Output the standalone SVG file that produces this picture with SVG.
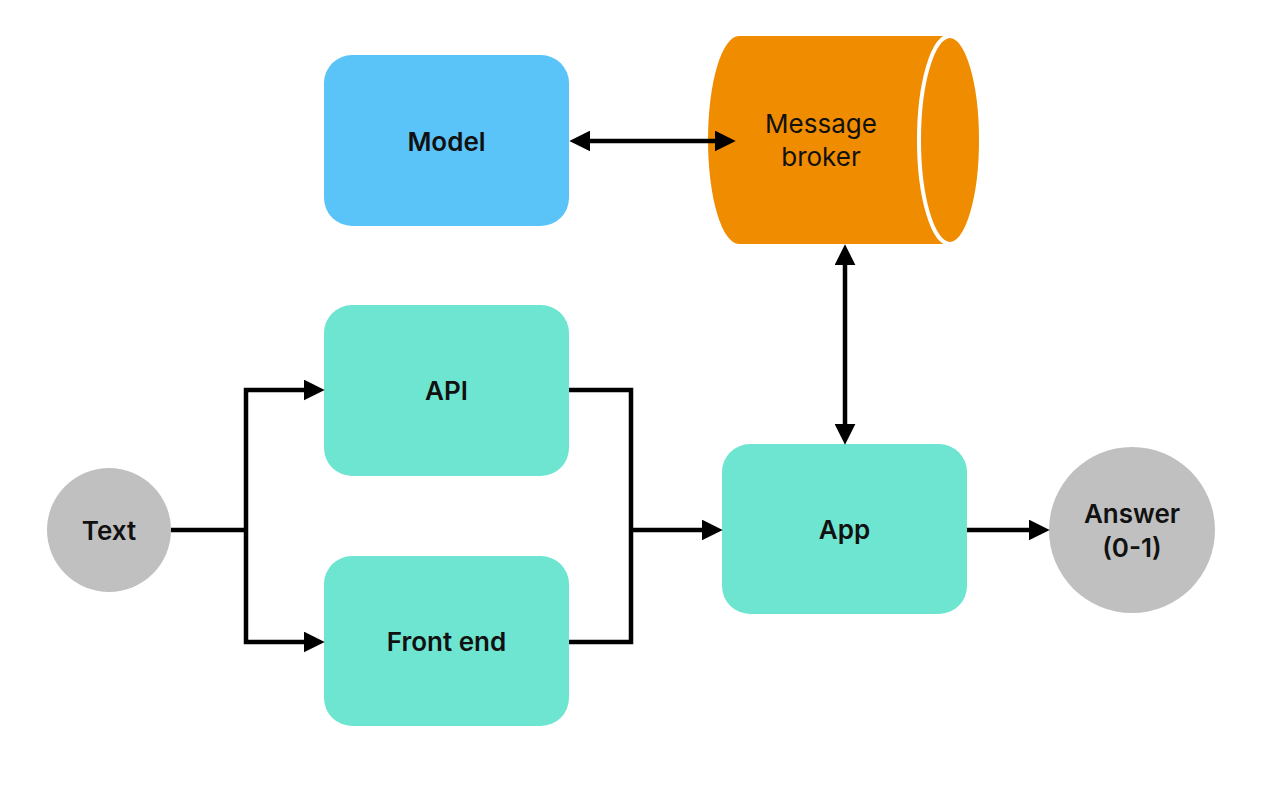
<svg xmlns="http://www.w3.org/2000/svg" width="1280" height="808" viewBox="0 0 1280 808">
<defs>
<marker id="ah" viewBox="0 0 20 20" refX="6" refY="10" markerWidth="21" markerHeight="21" markerUnits="userSpaceOnUse" orient="auto-start-reverse">
<path d="M0,0 L20,10 L0,20 Z" fill="#000"/>
</marker>
</defs>
<style>
.box{fill:#6EE5D0}
.lbl{font-family:Inter,"Liberation Sans",sans-serif;font-size:26px;font-weight:600;fill:#111;text-anchor:middle;dominant-baseline:central}
.lbln{font-family:Inter,"Liberation Sans",sans-serif;font-size:26px;font-weight:400;fill:#111;text-anchor:middle}
.cn{fill:none;stroke:#000;stroke-width:4.5}
.circ{fill:#C0C0C0}
</style>
<rect width="1280" height="808" fill="#fff"/>
<g id="model">
<rect x="324" y="55" width="245" height="171" rx="28" fill="#5AC4F8"/>
<text class="lbl" x="446.5" y="141">Model</text>
</g>
<g id="broker">
<path d="M739,36 L950,36 A31,104 0 0 1 950,244 L739,244 A31,104 0 0 1 739,36 Z" fill="#F08C00"/>
<ellipse cx="950" cy="140" rx="31" ry="104" fill="#F08C00" stroke="#fff" stroke-width="4"/>
<text class="lbln" x="821" y="133">Message</text>
<text class="lbln" x="821" y="166">broker</text>
</g>
<g id="api">
<rect class="box" x="324" y="305" width="245" height="171" rx="28"/>
<text class="lbl" x="446.5" y="390">API</text>
</g>
<g id="frontend">
<rect class="box" x="324" y="556" width="245" height="170" rx="28"/>
<text class="lbl" x="446.5" y="641">Front end</text>
</g>
<g id="app">
<rect class="box" x="722" y="444" width="245" height="170" rx="28"/>
<text class="lbl" x="844.5" y="529">App</text>
</g>
<g id="text">
<circle class="circ" cx="109" cy="530" r="62"/>
<text class="lbl" x="109" y="530">Text</text>
</g>
<g id="answer">
<circle class="circ" cx="1132" cy="530" r="83"/>
<text class="lbl" x="1132" y="513">Answer</text>
<text class="lbl" x="1132" y="547">(0-1)</text>
</g>
<g id="connectors">
<line class="cn" x1="584" y1="141" x2="721" y2="141" marker-start="url(#ah)" marker-end="url(#ah)"/>
<line class="cn" x1="845" y1="259" x2="845" y2="430" marker-start="url(#ah)" marker-end="url(#ah)"/>
<polyline class="cn" points="171,530 246,530"/>
<polyline class="cn" points="246,530 246,390 310,390" marker-end="url(#ah)"/>
<polyline class="cn" points="246,530 246,642 310,642" marker-end="url(#ah)"/>
<polyline class="cn" points="569,390 631,390 631,642 569,642"/>
<line class="cn" x1="631" y1="530" x2="708" y2="530" marker-end="url(#ah)"/>
<line class="cn" x1="967" y1="530" x2="1035" y2="530" marker-end="url(#ah)"/>
</g>
</svg>
